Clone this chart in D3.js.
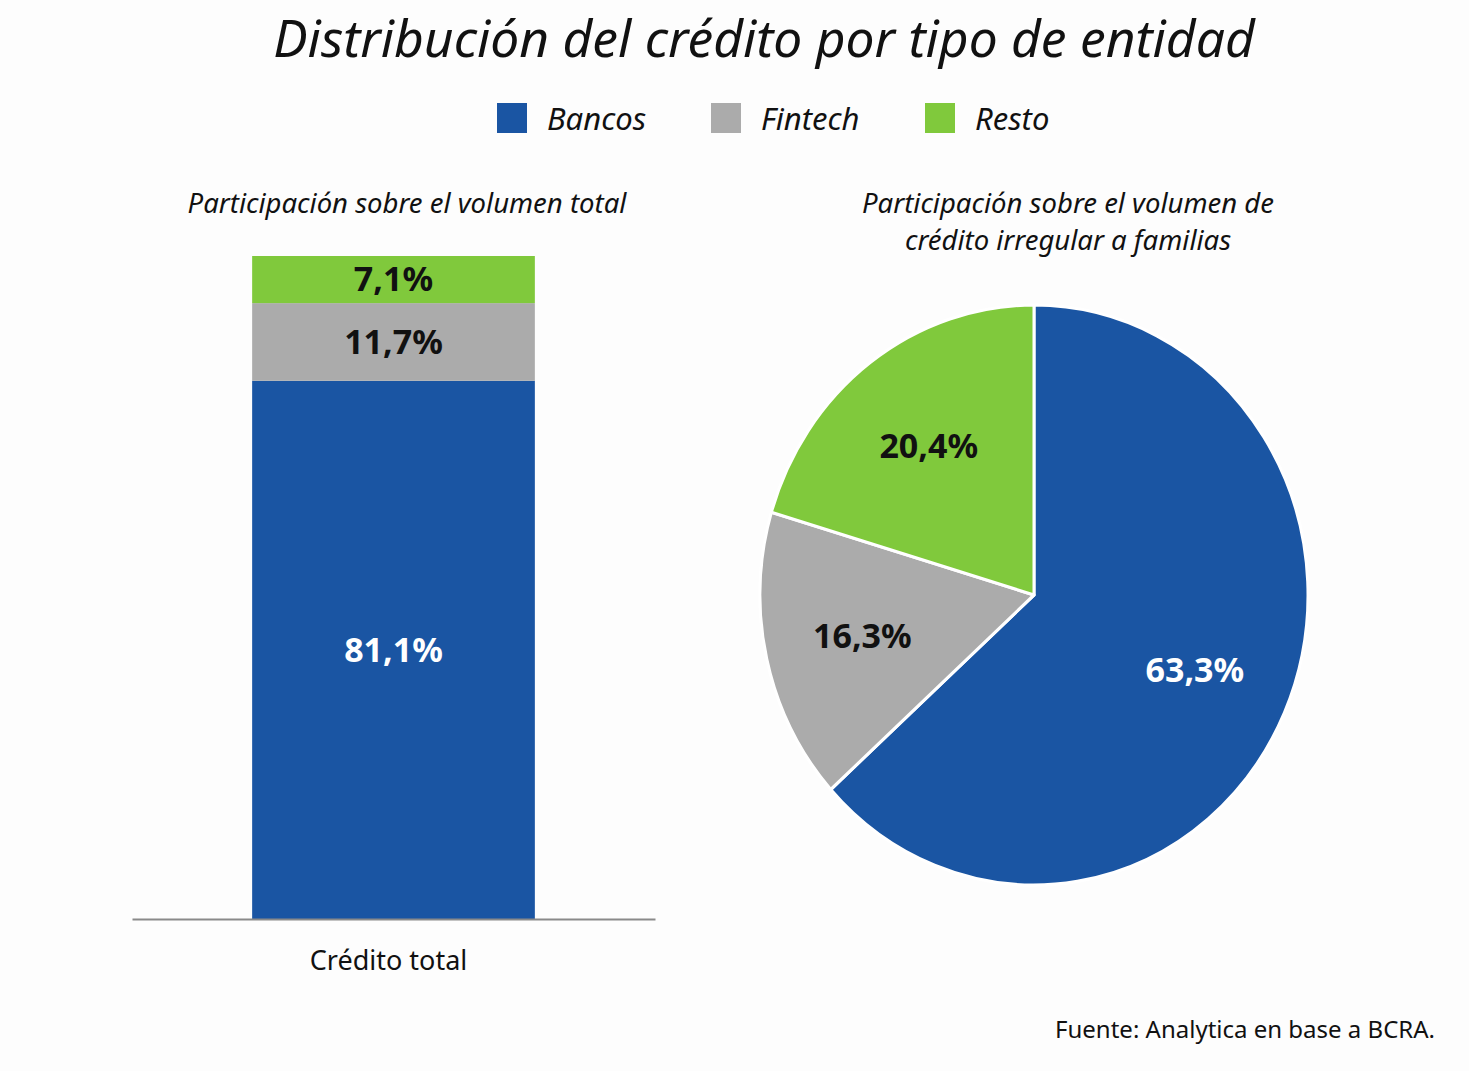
<!DOCTYPE html>
<html>
<head>
<meta charset="utf-8">
<script src="https://cdn.jsdelivr.net/npm/d3@7"></script>
<style>
  body { margin: 0; background: #fdfdfd; }
  svg { display: block; font-family: 'Noto Sans', sans-serif; }
</style>
</head>
<body>
<div id="chart-area"></div>
<script>
'use strict';

// series (same order in both charts)
let series = ['Bancos', 'Fintech', 'Resto'];
let colours = ['#1a55a3', '#ababab', '#80c93c'];
let labelColours = ['#ffffff', '#111111', '#111111'];

// left: share of total credit volume
let barCategory = ['Crédito total'];
let barValues = [81.1, 11.7, 7.1];

// right: share of irregular credit to households
let pieValues = [63.3, 16.3, 20.4];

let fmt = (v) => d3.format('.1f')(v).replace('.', ',') + '%';

let W = 1469, H = 1071;
let svg = d3.select('#chart-area').append('svg')
    .attr('width', W)
    .attr('height', H);

svg.append('rect').attr('width', W).attr('height', H).attr('fill', '#fdfdfd');

// title
svg.append('text')
    .attr('x', 764).attr('y', 57)
    .attr('text-anchor', 'middle')
    .attr('font-size', 51.5)
    .attr('font-style', 'italic')
    .attr('fill', '#111')
    .text('Distribución del crédito por tipo de entidad');

// legend
let legendX = [497, 711, 925];
let legend = svg.selectAll('.legend')
    .data(series)
    .enter().append('g')
        .attr('transform', (d, i) => `translate(${legendX[i]},103)`);
legend.append('rect')
    .attr('width', 30).attr('height', 30)
    .attr('fill', (d, i) => colours[i]);
legend.append('text')
    .attr('x', 50).attr('y', 27)
    .attr('font-size', 31)
    .attr('font-style', 'italic')
    .attr('fill', '#111')
    .text((d) => d);

// ---------- stacked bar ----------
svg.append('text')
    .attr('x', 407).attr('y', 213)
    .attr('text-anchor', 'middle')
    .attr('font-size', 27.5)
    .attr('font-style', 'italic')
    .attr('fill', '#111')
    .text('Participación sobre el volumen total');

let x = d3.scaleBand()
    .domain(barCategory)
    .range([132, 655])
    .paddingInner(0.2)
    .paddingOuter(0.34);

let row = {};
series.forEach((s, i) => { row[s] = barValues[i]; });
let stacked = d3.stack().keys(series)([row]);

let y = d3.scaleLinear()
    .domain([0, d3.sum(barValues)])
    .range([919, 256]);

svg.selectAll('.seg')
    .data(stacked)
    .enter().append('rect')
        .attr('x', x(barCategory[0]))
        .attr('width', x.bandwidth())
        .attr('y', (d) => y(d[0][1]))
        .attr('height', (d) => y(d[0][0]) - y(d[0][1]))
        .attr('fill', (d, i) => colours[i]);

svg.selectAll('.seglabel')
    .data(stacked)
    .enter().append('text')
        .attr('x', x(barCategory[0]) + x.bandwidth() / 2)
        .attr('y', (d) => y((d[0][0] + d[0][1]) / 2))
        .attr('dy', '0.35em')
        .attr('text-anchor', 'middle')
        .attr('font-size', 34)
        .attr('font-weight', 'bold')
        .attr('fill', (d, i) => labelColours[i])
        .text((d, i) => fmt(barValues[i]));

let xAxis = svg.append('g')
    .attr('transform', 'translate(0,919)')
    .call(d3.axisBottom(x).tickSize(0).tickPadding(32));
xAxis.select('.domain').attr('stroke', '#8a8a8a').attr('stroke-width', 2);
xAxis.selectAll('text')
    .attr('font-family', "'Noto Sans', sans-serif")
    .attr('font-size', 27)
    .attr('dx', -5)
    .attr('fill', '#111');

// ---------- pie ----------
svg.append('text')
    .attr('x', 1068).attr('y', 213)
    .attr('text-anchor', 'middle')
    .attr('font-size', 27.5)
    .attr('font-style', 'italic')
    .attr('fill', '#111')
    .selectAll('tspan')
    .data(['Participación sobre el volumen de', 'crédito irregular a familias'])
    .enter().append('tspan')
        .attr('x', 1068)
        .attr('dy', (d, i) => i === 0 ? 0 : 37)
        .text((d) => d);

let cx = 1034, cy = 595, r = 274, sy = 290 / 274;

let pie = d3.pie().sort(null).value((d) => d);
let arcs = pie(pieValues);

let arc = d3.arc().innerRadius(0).outerRadius(r);
let labelArc = d3.arc().innerRadius(176).outerRadius(176);

svg.append('g')
    .attr('transform', `translate(${cx},${cy}) scale(1,${sy})`)
    .selectAll('path')
    .data(arcs)
    .enter().append('path')
        .attr('d', arc)
        .attr('fill', (d, i) => colours[i])
        .attr('stroke', '#ffffff')
        .attr('stroke-width', 3)
        .attr('stroke-linejoin', 'round');

svg.append('g')
    .attr('transform', `translate(${cx},${cy})`)
    .selectAll('text')
    .data(arcs)
    .enter().append('text')
        .attr('x', (d) => labelArc.centroid(d)[0])
        .attr('y', (d) => labelArc.centroid(d)[1] * sy)
        .attr('dy', '0.35em')
        .attr('text-anchor', 'middle')
        .attr('font-size', 34)
        .attr('font-weight', 'bold')
        .attr('fill', (d, i) => labelColours[i])
        .text((d) => fmt(d.data));

// source
svg.append('text')
    .attr('x', 1435).attr('y', 1038)
    .attr('text-anchor', 'end')
    .attr('font-size', 24)
    .attr('fill', '#111')
    .text('Fuente: Analytica en base a BCRA.');
</script>
</body>
</html>
